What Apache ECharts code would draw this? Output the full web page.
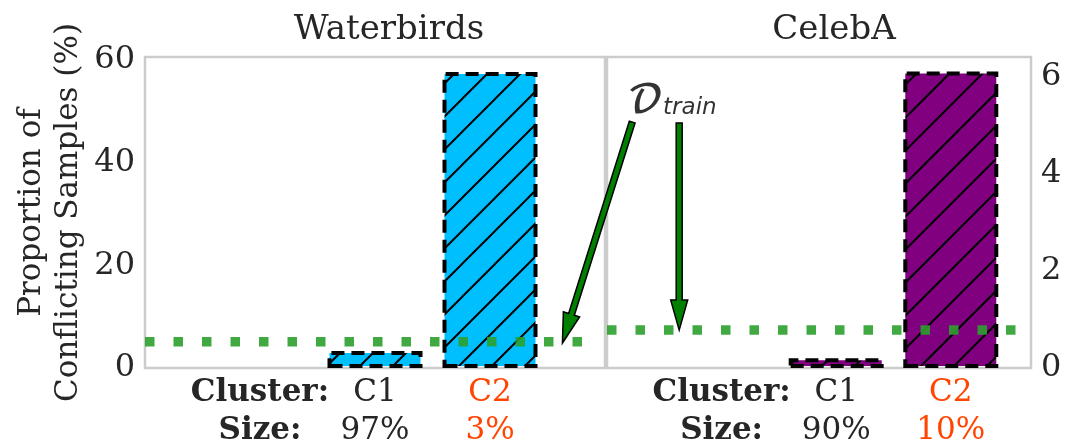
<!DOCTYPE html>
<html>
<head>
<meta charset="utf-8">
<script src="https://cdn.jsdelivr.net/npm/echarts@6/dist/echarts.min.js"></script>
<style>
  html, body { margin: 0; padding: 0; background: #fff; }
  #chart { width: 1066px; height: 443px; }
</style>
</head>
<body>
<div id="chart"></div>
<script>
// cluster positions on the x axis: -1 holds the row titles
var clusterPos = [-1, 0, 1];
var clusterNames = ['C1', 'C2'];
var waterbirdsSizes = ['97%', '3%'];
var celebaSizes = ['90%', '10%'];

// proportion of conflicting samples (%)
var waterbirdsValues = [3.3, 57.7];
var celebaValues = [0.2, 6.1];

// proportion in the whole training set (dotted line)
var waterbirdsTrain = 5.1;
var celebaTrain = 0.78;
var waterbirdsLineX = [-2, 1.87];
var celebaLineX = [-2, 1.6];

// annotation arrows (data coords of the grid they sit in)
var labelPoint = [-1.43, 5.5];          // CelebA grid
var arrowTails = [[-1.78, 5.06], [-1.37, 5.04]]; // CelebA grid
var arrowTipW = [1.63, 4.87];           // Waterbirds grid
var arrowTipC = [-1.37, celebaTrain];   // CelebA grid

var textColor = '#262626';
var red = '#ff4500';
var serif = 'DejaVu Serif';

function hatch(fill) {
  var s = 33;
  var c = document.createElement('canvas');
  c.width = s; c.height = s;
  var g = c.getContext('2d');
  g.fillStyle = fill;
  g.fillRect(0, 0, s, s);
  g.strokeStyle = '#000';
  g.lineWidth = 2;
  g.beginPath();
  g.moveTo(0, s); g.lineTo(s, 0);
  g.moveTo(-2, 2); g.lineTo(2, -2);
  g.moveTo(s - 2, s + 2); g.lineTo(s + 2, s - 2);
  g.stroke();
  return { image: c, repeat: 'repeat' };
}

function xLabels(sizes) {
  return function (v) {
    if (v === -1) return '{b|Cluster:}\n{b|Size:}';
    if (v === 0) return '{n|' + clusterNames[0] + '}\n{n|' + sizes[0] + '}';
    if (v === 1) return '{r|' + clusterNames[1] + '}\n{r|' + sizes[1] + '}';
    return '';
  };
}

var labelRich = {
  b: { fontFamily: serif, fontWeight: 'bold', fontSize: 31, color: textColor, lineHeight: 38 },
  n: { fontFamily: serif, fontSize: 31, color: textColor, lineHeight: 38 },
  r: { fontFamily: serif, fontSize: 31, color: red, lineHeight: 38 }
};

function xAxis(idx, max, sizes) {
  return {
    type: 'value', gridIndex: idx, min: -2, max: max, interval: 1,
    axisLine: { show: false }, axisTick: { show: false }, splitLine: { show: false },
    axisLabel: { formatter: xLabels(sizes), rich: labelRich, margin: 6, showMinLabel: true, showMaxLabel: true }
  };
}

function barData(values) {
  return values.map(function (v, i) { return [clusterPos[i + 1], v]; });
}

var barStyle = function (fill) {
  return {
    color: hatch(fill),
    borderColor: '#000',
    borderWidth: 4,
    borderType: [13, 7]
  };
};

var dotted = {
  color: 'rgba(44,160,44,0.9)', width: 9.5, type: [9.5, 19], cap: 'butt'
};

var chart = echarts.init(document.getElementById('chart'));
chart.setOption({
  animation: false,
  backgroundColor: '#fff',
  title: [
    { text: 'Waterbirds', left: 384, top: 8, textAlign: 'center',
      textStyle: { fontFamily: serif, fontWeight: 'normal', fontSize: 34, color: textColor } },
    { text: 'CelebA', left: 829, top: 8, textAlign: 'center',
      textStyle: { fontFamily: serif, fontWeight: 'normal', fontSize: 34, color: textColor } }
  ],
  grid: [
    { left: 145, top: 57, width: 460, height: 311, show: true, borderColor: '#cccccc', borderWidth: 2.5,
      containLabel: false, outerBoundsMode: 'none' },
    { left: 607, top: 57, width: 424, height: 311, show: true, borderColor: '#cccccc', borderWidth: 2.5,
      containLabel: false, outerBoundsMode: 'none' }
  ],
  xAxis: [xAxis(0, 2, waterbirdsSizes), xAxis(1, 1.7, celebaSizes)],
  yAxis: [
    {
      type: 'value', gridIndex: 0, min: 0, max: 60.6, interval: 20,
      axisLine: { show: false }, axisTick: { show: false }, splitLine: { show: false },
      axisLabel: { fontFamily: serif, fontSize: 32, color: textColor, margin: 10 },
      name: 'Proportion of\nConflicting Samples (%)', nameLocation: 'middle', nameGap: 58,
      nameRotate: 90,
      nameTextStyle: { fontFamily: serif, fontSize: 31, color: textColor, lineHeight: 37 }
    },
    {
      type: 'value', gridIndex: 1, position: 'right', min: 0, max: 6.4, interval: 2,
      axisLine: { show: false }, axisTick: { show: false }, splitLine: { show: false },
      axisLabel: { fontFamily: serif, fontSize: 32, color: textColor, margin: 10 }
    }
  ],
  series: [
    {
      type: 'bar', xAxisIndex: 0, yAxisIndex: 0, barWidth: 95,
      data: barData(waterbirdsValues), itemStyle: barStyle('#00bfff'), z: 2
    },
    {
      type: 'bar', xAxisIndex: 1, yAxisIndex: 1, barWidth: 95,
      data: barData(celebaValues), itemStyle: barStyle('#800080'), z: 2
    },
    {
      type: 'line', xAxisIndex: 0, yAxisIndex: 0, symbol: 'none', z: 5,
      data: waterbirdsLineX.map(function (x) { return [x, waterbirdsTrain]; }),
      lineStyle: dotted
    },
    {
      type: 'line', xAxisIndex: 1, yAxisIndex: 1, symbol: 'none', z: 5,
      data: celebaLineX.map(function (x) { return [x, celebaTrain]; }),
      lineStyle: dotted
    }
  ]
});

function arrow(p0, p1) {
  var dx = p1[0] - p0[0], dy = p1[1] - p0[1];
  var len = Math.sqrt(dx * dx + dy * dy);
  var ux = dx / len, uy = dy / len;
  var nx = -uy, ny = ux;
  var hw = 3, HW = 8.5, hl = 30;
  var bx = p1[0] - ux * hl, by = p1[1] - uy * hl;
  var pts = [
    [p0[0] + nx * hw, p0[1] + ny * hw],
    [bx + nx * hw, by + ny * hw],
    [bx + nx * HW, by + ny * HW],
    [p1[0], p1[1]],
    [bx - nx * HW, by - ny * HW],
    [bx - nx * hw, by - ny * hw],
    [p0[0] - nx * hw, p0[1] - ny * hw]
  ];
  return {
    type: 'polygon', z: 100, shape: { points: pts },
    style: { fill: '#008000', stroke: '#000', lineWidth: 1.5 }
  };
}

var t1 = chart.convertToPixel({ gridIndex: 1 }, arrowTails[0]);
var t2 = chart.convertToPixel({ gridIndex: 1 }, arrowTails[1]);
var h1 = chart.convertToPixel({ gridIndex: 0 }, arrowTipW);
var h2 = chart.convertToPixel({ gridIndex: 1 }, arrowTipC);
var lp = chart.convertToPixel({ gridIndex: 1 }, labelPoint);

chart.setOption({
  graphic: [
    arrow(t1, h1),
    arrow(t2, h2),
    {
      type: 'text', x: lp[0], y: lp[1], z: 100,
      style: {
        text: '{d|\uD835\uDC9F}{s|train}',
        align: 'center', verticalAlign: 'middle',
        rich: {
          d: { fontFamily: 'DejaVu Math TeX Gyre, DejaVu Serif, serif', fontSize: 38, fontWeight: 'bold', fill: '#333' },
          s: { fontFamily: 'DejaVu Sans', fontStyle: 'italic', fontSize: 23, fill: '#333', padding: [14, 0, 0, 0] }
        }
      }
    }
  ]
});
</script>
</body>
</html>
